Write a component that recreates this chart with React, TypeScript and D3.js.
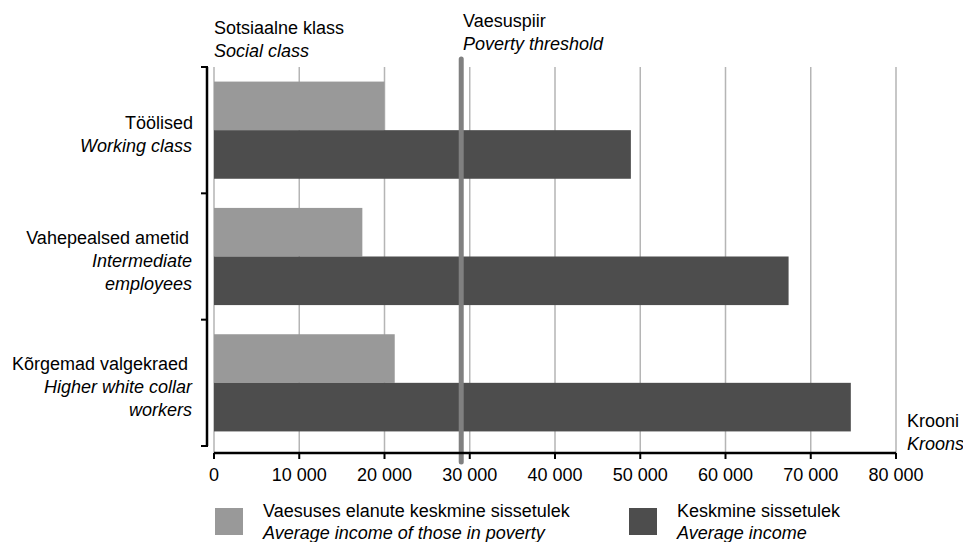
import React from "react";
import * as d3 from "d3";

const categoriesEt = ["Töölised", "Vahepealsed ametid", "Kõrgemad valgekraed"];
const categoriesEn = [["Working class"], ["Intermediate", "employees"], ["Higher white collar", "workers"]];
const povertyIncome = [20000, 17400, 21200];
const averageIncome = [48900, 67400, 74700];
const povertyThreshold = 29000;
const xTicks = [0, 10000, 20000, 30000, 40000, 50000, 60000, 70000, 80000];
const seriesKeys = ["poverty", "average"];
const seriesLabelsEt = ["Vaesuses elanute keskmine sissetulek", "Keskmine sissetulek"];
const seriesLabelsEn = ["Average income of those in poverty", "Average income"];
const colors = ["#999999", "#4d4d4d"];

const W = 963;
const H = 542;
const FONT = "'Liberation Sans', Arial, sans-serif";
const etLabelRight = [193, 189, 188];

export default function App() {
  const x = d3.scaleLinear().domain([0, 80000]).range([214, 896]);
  const y = d3.scaleBand<string>().domain(categoriesEt).range([67, 446]).padding(0);
  const sub = d3.scaleBand<string>().domain(seriesKeys).range([0, y.bandwidth()]).paddingInner(0).paddingOuter(0.3);
  const fmt = (v: number) => d3.format(",")(v).replace(/,/g, " ");
  const axisY = 453;
  const values = [povertyIncome, averageIncome];

  return (
    <svg width={W} height={H} style={{ position: "absolute", left: 0, top: 0, background: "#fff" }} fontFamily={FONT} fontSize={18}>
      {xTicks.map((t) => (
        <line key={"g" + t} x1={x(t)} x2={x(t)} y1={67} y2={axisY} stroke="#b5b5b5" strokeWidth={1.5} />
      ))}
      {categoriesEt.map((c, i) =>
        seriesKeys.map((s, j) => (
          <rect
            key={c + s}
            x={x(0)}
            y={(y(c) as number) + (sub(s) as number)}
            width={x(values[j][i]) - x(0)}
            height={sub.bandwidth()}
            fill={colors[j]}
          />
        ))
      )}
      <line x1={x(povertyThreshold)} x2={x(povertyThreshold)} y1={59} y2={462} stroke="#808080" strokeWidth={5} strokeLinecap="round" />
      <line x1={207} x2={207} y1={67} y2={446} stroke="#000" strokeWidth={2.5} />
      {[...categoriesEt.map((c) => y(c) as number), 446].map((v, i) => (
        <line key={"lt" + i} x1={201} x2={208} y1={v} y2={v} stroke="#000" strokeWidth={2} />
      ))}
      <line x1={x(0)} x2={x(80000)} y1={axisY} y2={axisY} stroke="#000" strokeWidth={2.5} />
      {xTicks.map((t) => (
        <g key={"t" + t}>
          <line x1={x(t)} x2={x(t)} y1={axisY} y2={axisY + 6} stroke="#000" strokeWidth={2} />
          <text x={x(t)} y={481} textAnchor="middle" fill="#000">{fmt(t)}</text>
        </g>
      ))}
      {categoriesEt.map((c, i) => {
        const lines = [c, ...categoriesEn[i]];
        const n = lines.length;
        const center = (y(c) as number) + y.bandwidth() / 2;
        return (
          <text key={"cl" + c} textAnchor="end" fill="#000">
            {lines.map((l, k) => (
              <tspan key={k} x={k === 0 ? etLabelRight[i] : 192} y={center + 10 + (k - (n - 1) / 2) * 23} fontStyle={k === 0 ? "normal" : "italic"}>
                {l}
              </tspan>
            ))}
          </text>
        );
      })}
      <text x={214} y={34} fill="#000">Sotsiaalne klass</text>
      <text x={214} y={57} fill="#000" fontStyle="italic">Social class</text>
      <text x={463} y={27} fill="#000">Vaesuspiir</text>
      <text x={463} y={50} fill="#000" fontStyle="italic">Poverty threshold</text>
      <text x={907} y={427} fill="#000">Krooni</text>
      <text x={907} y={450} fill="#000" fontStyle="italic">Kroons</text>
      {seriesKeys.map((s, j) => {
        const lx = j === 0 ? 215 : 629;
        return (
          <g key={"lg" + s}>
            <rect x={lx} y={508} width={28} height={27} fill={colors[j]} />
            <text x={lx + 48} y={517} fill="#000">{seriesLabelsEt[j]}</text>
            <text x={lx + 48} y={539} fill="#000" fontStyle="italic">{seriesLabelsEn[j]}</text>
          </g>
        );
      })}
    </svg>
  );
}
